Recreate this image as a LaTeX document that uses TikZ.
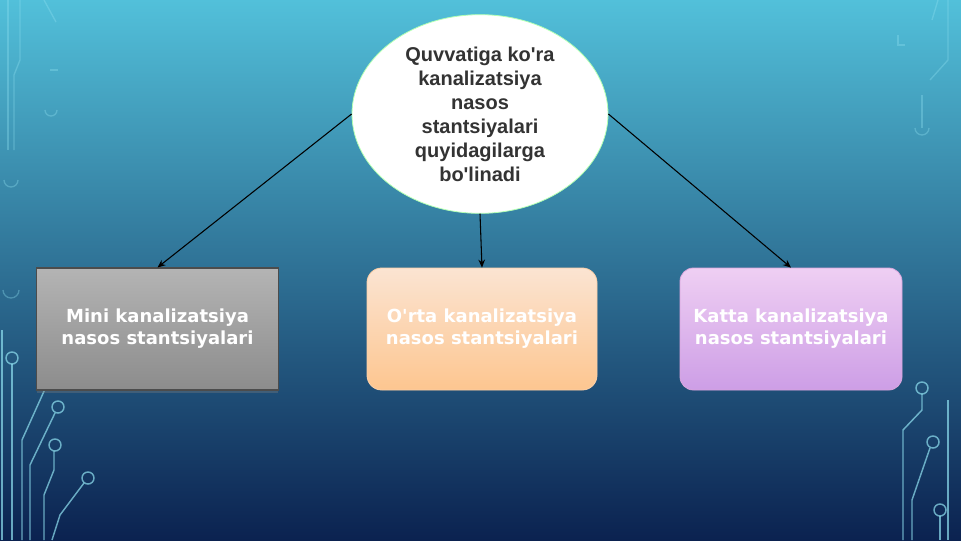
\documentclass[tikz,border=0pt]{standalone}
\usepackage{fontspec}
\usetikzlibrary{shapes.geometric,arrows.meta,shadows}
\newfontfamily\elfont{Liberation Sans}
\newfontfamily\bxfont{DejaVu Sans}
\definecolor{bgtop}{HTML}{52C0DA}
\definecolor{bgmid}{HTML}{2B86B4}
\definecolor{bgbot}{HTML}{0B2250}
\definecolor{circ}{HTML}{8FE0F0}
\definecolor{graytop}{HTML}{B4B4B4}
\definecolor{graybot}{HTML}{8C8C8C}
\definecolor{peachtop}{HTML}{FBE4D2}
\definecolor{peachbot}{HTML}{FDC690}
\definecolor{lavtop}{HTML}{EFCFF3}
\definecolor{lavbot}{HTML}{CD9EE6}
\tikzset{
  trace/.style={draw=circ, line width=1.1pt, opacity=0.7},
  tracefaint/.style={draw=circ, line width=1pt, opacity=0.35},
  pad/.style={draw=circ, line width=1.1pt, opacity=0.7},
  bigell/.style={ellipse, fill=white, draw=green!30!white, line width=0.6pt,
     minimum width=192pt, minimum height=149pt, inner sep=0pt},
  elltext/.style={align=center, font=\elfont\bfseries\fontsize{15}{18}\selectfont, text=black!80},
  catbox/.style={minimum width=181pt, minimum height=91.5pt, inner sep=0pt, align=center,
     text=white, font=\bxfont\bfseries\fontsize{13.5}{16.5}\selectfont},
  conn/.style={-{Stealth[length=6pt,width=5pt]}, line width=0.8pt, black}
}
\begin{document}
\begin{tikzpicture}[x=0.75pt,y=-0.75pt]
\useasboundingbox (0,0) rectangle (961,540);
\shade[top color=bgtop, middle color=bgmid, bottom color=bgbot] (0,0) rectangle (961,540);
% circuit traces left top (faint)
\draw[tracefaint] (8,0) -- (8,150);
\draw[tracefaint] (20,0) -- (20,60) -- (14,75) -- (14,150);
\draw[tracefaint] (44,0) -- (56,22);
\draw[tracefaint] (4,180) arc (180:0:7);
\draw[tracefaint] (50,70) -- (58,70);
\draw[tracefaint] (45,110) arc (180:0:6);
% circuit traces left bottom
\draw[tracefaint] (3,290) arc (180:0:8);
\draw[trace] (2,330) -- (2,540);
\draw[pad] (12,358) circle (6);
\draw[trace] (12,364) -- (12,540);
\draw[pad] (58,407) circle (6);
\draw[trace] (55,413) -- (30,465) -- (30,540);
\draw[pad] (55,445) circle (6);
\draw[trace] (54,451) -- (54,470) -- (44,495) -- (44,540);
\draw[pad] (88,478) circle (6);
\draw[trace] (84,483) -- (60,515) -- (52,540);
\draw[trace] (50,378) -- (22,440) -- (22,540);
% circuit traces right top (faint)
\draw[tracefaint] (948,0) -- (948,60) -- (930,80);
\draw[tracefaint] (938,0) -- (932,20);
\draw[tracefaint] (915,128) arc (180:0:7);
\draw[tracefaint] (922,128) -- (922,95);
\draw[tracefaint] (898,35) -- (898,45) -- (905,45);
% circuit traces right bottom
\draw[pad] (922,388) circle (6);
\draw[trace] (922,394) -- (922,410) -- (903,430) -- (903,540);
\draw[pad] (933,442) circle (6);
\draw[trace] (930,448) -- (912,500) -- (912,540);
\draw[pad] (940,510) circle (6);
\draw[trace] (940,516) -- (940,540);
\draw[trace] (948,400) -- (948,540);
% main diagram
\node[bigell] (top) at (480,114) {};
\node[elltext] at (top.center) {Quvvatiga ko'ra\\kanalizatsiya\\nasos\\stantsiyalari\\quyidagilarga\\bo'linadi};
\node[catbox, top color=graytop, bottom color=graybot, draw=black!70, line width=0.8pt,
      drop shadow={opacity=0.35, shadow xshift=0pt, shadow yshift=-2pt}]
      (mini) at (157.5,329) {Mini kanalizatsiya\\nasos stantsiyalari};
\node[catbox, minimum width=172.5pt, top color=peachtop, bottom color=peachbot, draw=peachtop!80!orange,
      line width=0.6pt, rounded corners=11pt]
      (orta) at (482,329) {O'rta kanalizatsiya\\nasos stantsiyalari};
\node[catbox, minimum width=166.5pt, top color=lavtop, bottom color=lavbot, draw=lavtop!80!violet,
      line width=0.6pt, rounded corners=10pt]
      (katta) at (791,329) {Katta kanalizatsiya\\nasos stantsiyalari};
\draw[conn] (top.west) -- (mini.north);
\draw[conn] (top.south) -- (orta.north);
\draw[conn] (top.east) -- (katta.north);
\end{tikzpicture}
\end{document}
